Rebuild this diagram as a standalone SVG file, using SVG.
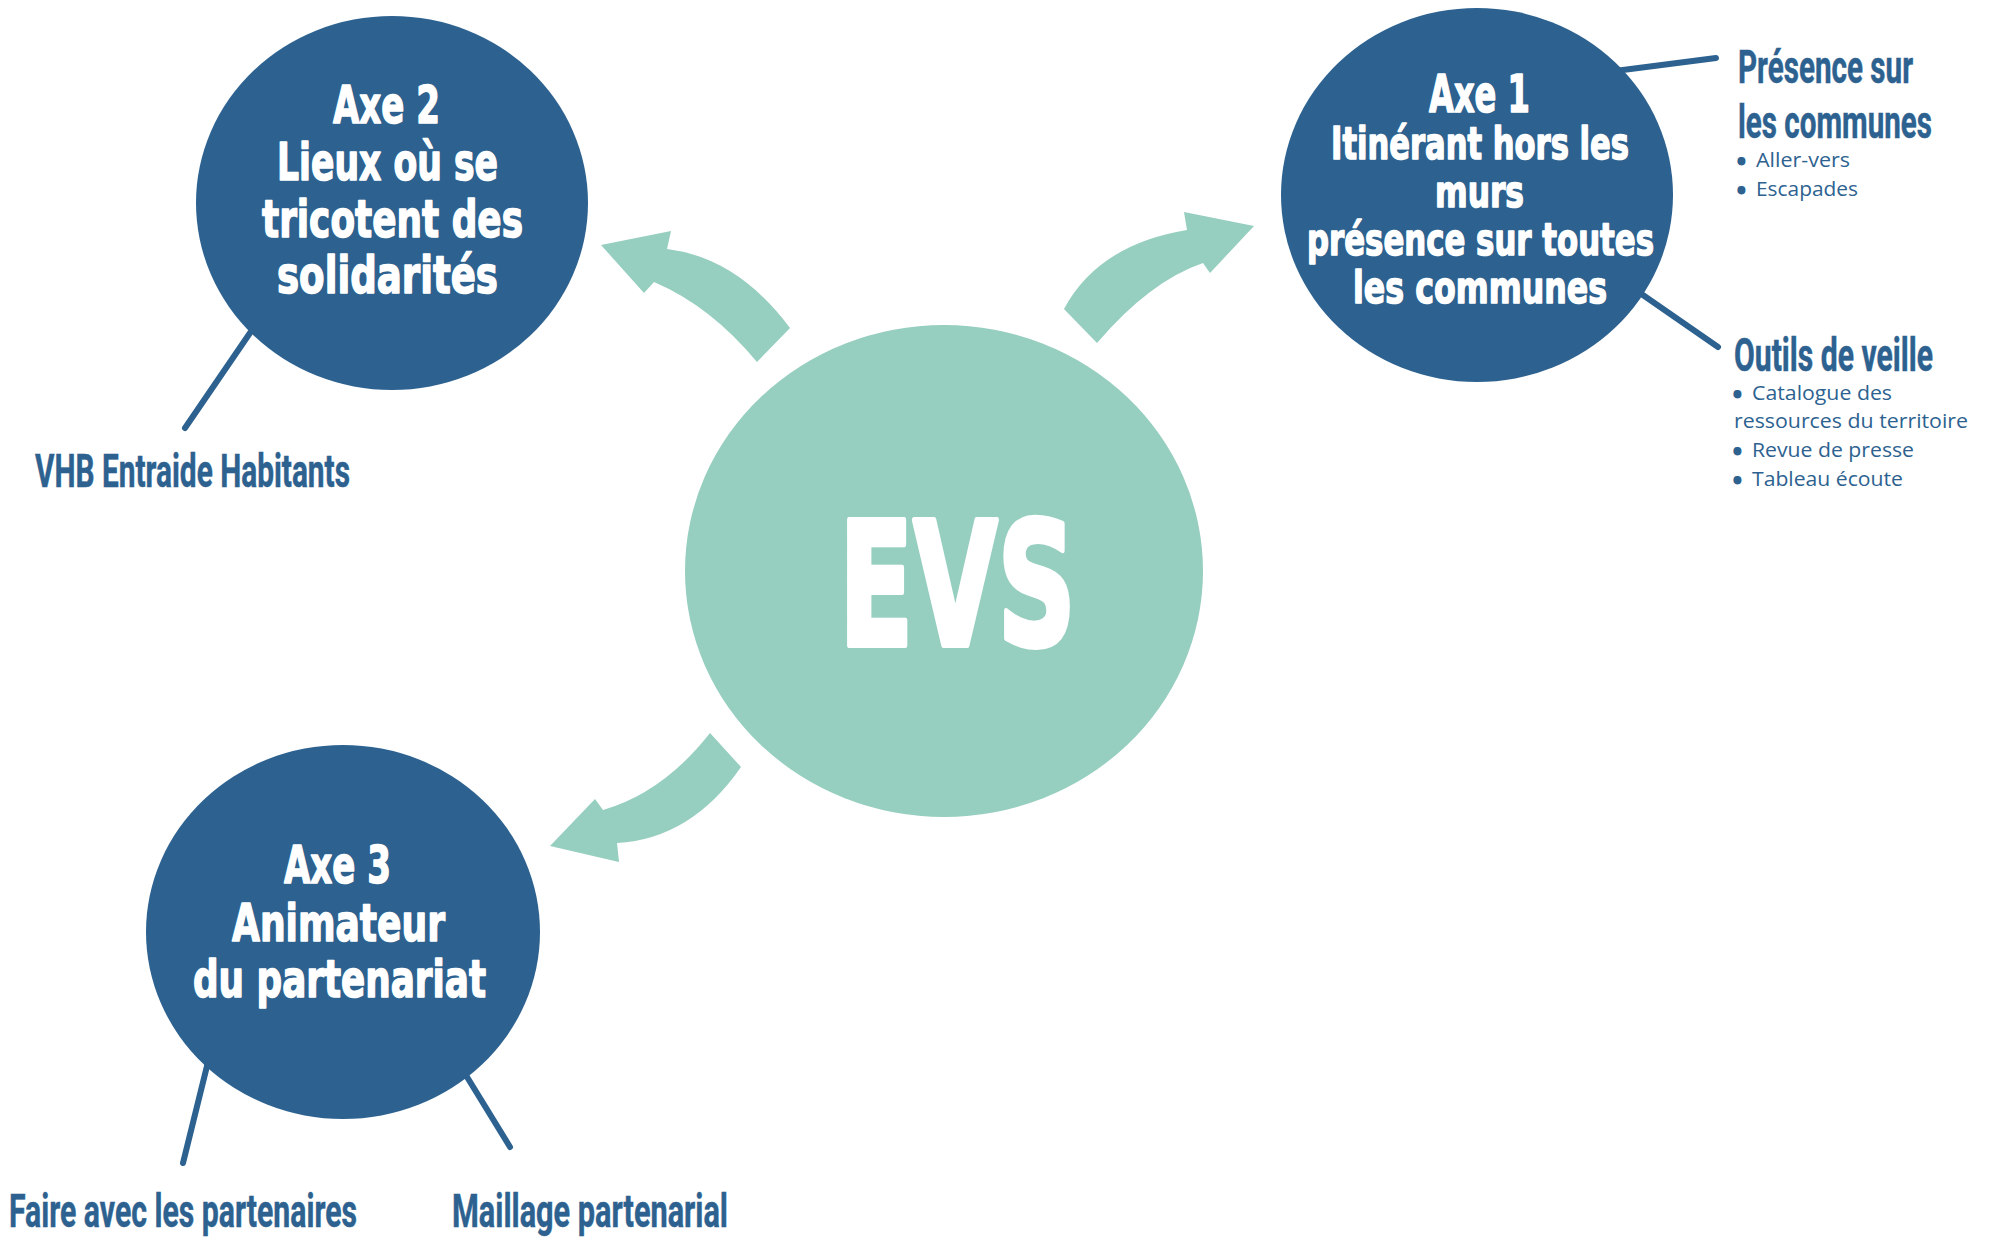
<svg xmlns="http://www.w3.org/2000/svg" width="1993" height="1237" viewBox="0 0 1993 1237">
<style>
.axe{fill:#2d6290}
.evs{fill:#96cebf}
.arr{fill:#96cebf}
.w{fill:#ffffff;stroke:#ffffff;stroke-width:1.6;stroke-linejoin:round;font-family:"DejaVu Sans","Liberation Sans",sans-serif;font-weight:bold}
.lbl{fill:#2d6290;stroke:#2d6290;stroke-width:0.5;font-family:"Liberation Sans Narrow","Roboto","Liberation Sans",sans-serif;font-weight:bold;font-size:46px}
.sub{fill:#2d6290;font-family:"Open Sans","Noto Sans",sans-serif;font-size:20px}
.bul{fill:#2d6290;stroke:#2d6290;stroke-width:3;stroke-linejoin:round;font-family:"Open Sans","Noto Sans",sans-serif;font-size:18px;font-weight:bold}
.ln{stroke:#2d6290;stroke-width:6;stroke-linecap:round;fill:none}
</style>
<rect width="1993" height="1237" fill="#ffffff"/>
<g id="connectors">
<path class="arr" d="M601,245 L671,231 L667,249 Q737.5,257.5 790,328 L757,362 Q710.5,306 654,282 L644,293 Z"/>
<path class="arr" d="M1254,226 L1210,273 L1203,263 Q1150,281 1097,343 L1064,309 Q1098.5,244.5 1187,230 L1184,212 Z"/>
<path class="arr" d="M550,846 L595,799 L603,810 Q663.5,792.5 710,733 L741,767 Q691,839 617,843 L619,862 Z"/>
<line class="ln" x1="252" y1="330" x2="185" y2="428"/>
<line class="ln" x1="1615" y1="71" x2="1716" y2="58"/>
<line class="ln" x1="1640" y1="293" x2="1718" y2="347"/>
<line class="ln" x1="209" y1="1058" x2="183" y2="1163"/>
<line class="ln" x1="464" y1="1072" x2="510" y2="1147"/>
</g>
<g id="node-evs">
<ellipse class="evs" cx="944" cy="571" rx="259" ry="246"/>
<text class="w" style="stroke-width:6" x="839" y="645" font-size="172" textLength="237" lengthAdjust="spacingAndGlyphs">EVS</text>
</g>
<g id="node-axe2">
<ellipse class="axe" cx="392" cy="203" rx="196" ry="187"/>
<text class="w" font-size="51" x="333" y="123" textLength="107" lengthAdjust="spacingAndGlyphs">Axe 2</text>
<text class="w" font-size="51" x="277" y="180" textLength="221" lengthAdjust="spacingAndGlyphs">Lieux où se</text>
<text class="w" font-size="51" x="262" y="237" textLength="261" lengthAdjust="spacingAndGlyphs">tricotent des</text>
<text class="w" font-size="51" x="277" y="293" textLength="221" lengthAdjust="spacingAndGlyphs">solidarités</text>
</g>
<g id="node-axe1">
<ellipse class="axe" cx="1477" cy="195" rx="196" ry="187"/>
<text class="w" font-size="51" x="1429" y="112" textLength="101" lengthAdjust="spacingAndGlyphs">Axe 1</text>
<text class="w" font-size="45" x="1331" y="159" textLength="298" lengthAdjust="spacingAndGlyphs">Itinérant hors les</text>
<text class="w" font-size="45" x="1435" y="207" textLength="89" lengthAdjust="spacingAndGlyphs">murs</text>
<text class="w" font-size="45" x="1307" y="255" textLength="347" lengthAdjust="spacingAndGlyphs">présence sur toutes</text>
<text class="w" font-size="45" x="1353" y="303" textLength="254" lengthAdjust="spacingAndGlyphs">les communes</text>
</g>
<g id="node-axe3">
<ellipse class="axe" cx="343" cy="932" rx="197" ry="187"/>
<text class="w" font-size="51" x="284" y="883" textLength="107" lengthAdjust="spacingAndGlyphs">Axe 3</text>
<text class="w" font-size="51" x="232" y="941" textLength="213" lengthAdjust="spacingAndGlyphs">Animateur</text>
<text class="w" font-size="51" x="193" y="997" textLength="293" lengthAdjust="spacingAndGlyphs">du partenariat</text>
</g>
<g id="label-presence">
<text class="lbl" x="1738" y="83" textLength="175" lengthAdjust="spacingAndGlyphs">Présence sur</text>
<text class="lbl" x="1738" y="138" textLength="194" lengthAdjust="spacingAndGlyphs">les communes</text>
<text class="bul" x="1738" y="168">•</text>
<text class="sub" x="1756" y="167" textLength="94" lengthAdjust="spacingAndGlyphs">Aller-vers</text>
<text class="bul" x="1738" y="197">•</text>
<text class="sub" x="1756" y="196" textLength="102" lengthAdjust="spacingAndGlyphs">Escapades</text>
</g>
<g id="label-outils">
<text class="lbl" x="1734" y="371" textLength="199" lengthAdjust="spacingAndGlyphs">Outils de veille</text>
<text class="bul" x="1734" y="401">•</text>
<text class="sub" x="1752" y="400" textLength="140" lengthAdjust="spacingAndGlyphs">Catalogue des</text>
<text class="sub" x="1734" y="428" textLength="234" lengthAdjust="spacingAndGlyphs">ressources du territoire</text>
<text class="bul" x="1734" y="458">•</text>
<text class="sub" x="1752" y="457" textLength="162" lengthAdjust="spacingAndGlyphs">Revue de presse</text>
<text class="bul" x="1734" y="487">•</text>
<text class="sub" x="1752" y="486" textLength="151" lengthAdjust="spacingAndGlyphs">Tableau écoute</text>
</g>
<g id="label-vhb">
<text class="lbl" x="35" y="487" textLength="315" lengthAdjust="spacingAndGlyphs">VHB Entraide Habitants</text>
</g>
<g id="label-faire">
<text class="lbl" x="9" y="1227" textLength="348" lengthAdjust="spacingAndGlyphs">Faire avec les partenaires</text>
</g>
<g id="label-maillage">
<text class="lbl" x="452" y="1227" textLength="276" lengthAdjust="spacingAndGlyphs">Maillage partenarial</text>
</g>
</svg>
